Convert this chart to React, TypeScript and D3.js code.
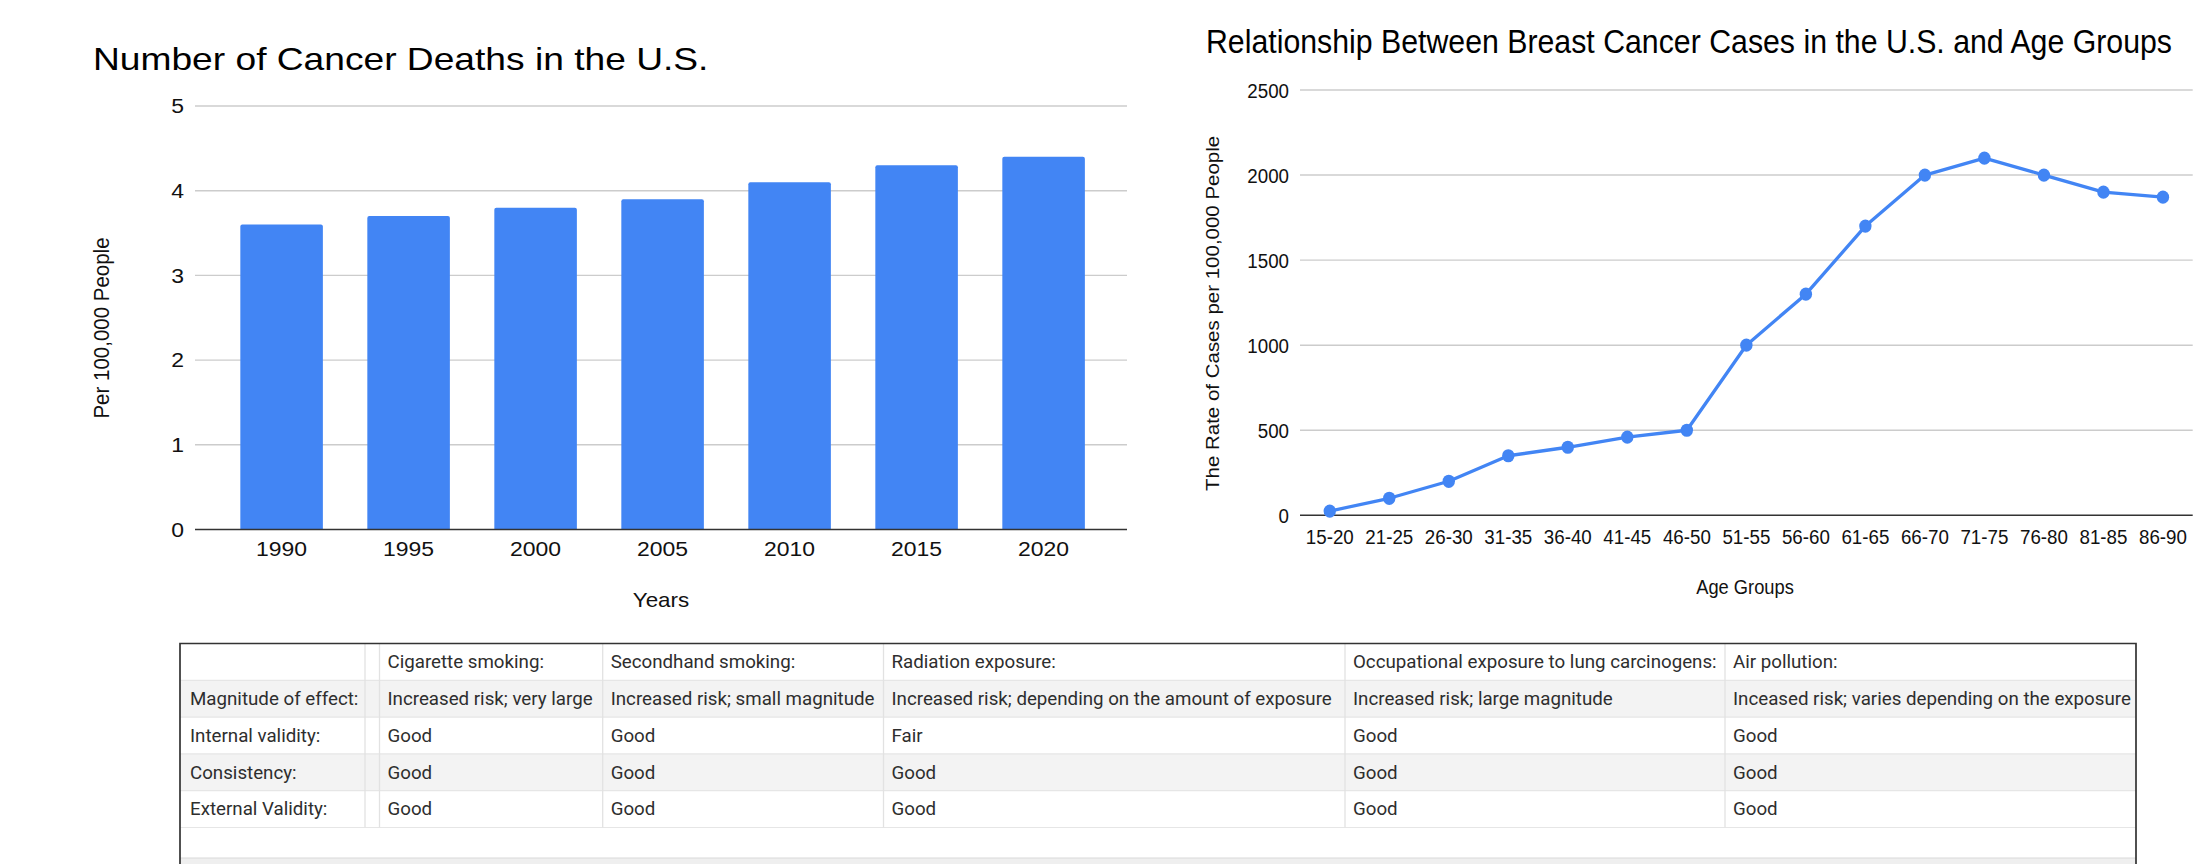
import React from 'react';
import * as d3 from 'd3';

// ---------- Data ----------
const years = ['1990', '1995', '2000', '2005', '2010', '2015', '2020'];
const deaths = [3.6, 3.7, 3.8, 3.9, 4.1, 4.3, 4.4];
const deathTicks = [0, 1, 2, 3, 4, 5];

const ageGroups = ['15-20', '21-25', '26-30', '31-35', '36-40', '41-45', '46-50', '51-55', '56-60', '61-65', '66-70', '71-75', '76-80', '81-85', '86-90'];
const breastRates = [25, 100, 200, 350, 400, 460, 500, 1000, 1300, 1700, 2000, 2100, 2000, 1900, 1870];
const rateTicks = [0, 500, 1000, 1500, 2000, 2500];

const tableHeader = ['', '', 'Cigarette smoking:', 'Secondhand smoking:', 'Radiation exposure:', 'Occupational exposure to lung carcinogens:', 'Air pollution:'];
const rowMagnitude = ['Magnitude of effect:', '', 'Increased risk; very large', 'Increased risk; small magnitude', 'Increased risk; depending on the amount of exposure', 'Increased risk; large magnitude', 'Inceased risk; varies depending on the exposure'];
const rowInternal = ['Internal validity:', '', 'Good', 'Good', 'Fair', 'Good', 'Good'];
const rowConsistency = ['Consistency:', '', 'Good', 'Good', 'Good', 'Good', 'Good'];
const rowExternal = ['External Validity:', '', 'Good', 'Good', 'Good', 'Good', 'Good'];
const tableRows = [tableHeader, rowMagnitude, rowInternal, rowConsistency, rowExternal];

const BLUE = '#4285F4';
const ARIAL = '"Liberation Sans", Arial, sans-serif';
const ROBOTO = 'Roboto, "Liberation Sans", sans-serif';

function SText(props: {
  x: number; y: number; sx?: number; rotate?: number; anchor?: string;
  size: number; family?: string; fill?: string; children: React.ReactNode;
}) {
  const { x, y, sx = 1, rotate = 0, anchor = 'start', size, family = ARIAL, fill = '#000', children } = props;
  const t = `translate(${x},${y}) scale(${sx},1)` + (rotate ? ` rotate(${rotate})` : '');
  return (
    <text transform={t} textAnchor={anchor as any} fontSize={size} fontFamily={family} fill={fill}>
      {children}
    </text>
  );
}

function BarChart() {
  const left = 195, right = 1127;
  const y = d3.scaleLinear().domain([0, 5]).range([529.5, 106]);
  const x = d3.scaleBand<string>().domain(years).range([218.1, 1107.1]).paddingInner(0.35).paddingOuter(0.175);
  const sx = 1.12;
  return (
    <g>
      <SText x={93} y={69.5} size={31.5} sx={1.18}>Number of Cancer Deaths in the U.S.</SText>
      {deathTicks.filter(t => t > 0).map(t => (
        <line key={t} x1={left} x2={right} y1={y(t)} y2={y(t)} stroke="#cccccc" strokeWidth={1.4} />
      ))}
      {deathTicks.map(t => (
        <SText key={'l' + t} x={184} y={y(t) + 7.3} size={20.5} sx={sx} anchor="end" fill="#111">{String(t)}</SText>
      ))}
      {years.map((yr, i) => {
        const x0 = x(yr)!;
        const w = x.bandwidth();
        const y0 = y(deaths[i]);
        const h = y(0) - y0;
        const r = 2;
        const d = `M${x0},${y0 + h} L${x0},${y0 + r} Q${x0},${y0} ${x0 + r},${y0} L${x0 + w - r},${y0} Q${x0 + w},${y0} ${x0 + w},${y0 + r} L${x0 + w},${y0 + h} Z`;
        return <path key={yr} d={d} fill={BLUE} />;
      })}
      <line x1={left} x2={right} y1={y(0)} y2={y(0)} stroke="#333" strokeWidth={1.6} />
      {years.map(yr => (
        <SText key={'x' + yr} x={x(yr)! + x.bandwidth() / 2} y={556} size={20.5} sx={sx} anchor="middle" fill="#111">{yr}</SText>
      ))}
      <SText x={661} y={607.3} size={20} sx={sx} anchor="middle" fill="#111">Years</SText>
      <SText x={109} y={328} size={20.5} sx={sx} rotate={-90} anchor="middle" fill="#111">Per 100,000 People</SText>
    </g>
  );
}

function LineChart() {
  const left = 1300, right = 2192.7;
  const y = d3.scaleLinear().domain([0, 2500]).range([515.3, 90]);
  const x = d3.scalePoint<string>().domain(ageGroups).range([left, right]).padding(0.5);
  const sx = 0.915;
  const line = d3.line<number>().x((_, i) => x(ageGroups[i])!).y(d => y(d));
  return (
    <g>
      <SText x={1206} y={52.7} size={33} sx={0.918}>Relationship Between Breast Cancer Cases in the U.S. and Age Groups</SText>
      {rateTicks.filter(t => t > 0).map(t => (
        <line key={t} x1={left} x2={right} y1={y(t)} y2={y(t)} stroke="#cccccc" strokeWidth={1.4} />
      ))}
      {rateTicks.map(t => (
        <SText key={'l' + t} x={1289} y={y(t) + 7.5} size={20.5} sx={sx} anchor="end" fill="#111">{String(t)}</SText>
      ))}
      <line x1={left} x2={right} y1={y(0)} y2={y(0)} stroke="#333" strokeWidth={1.6} />
      <path d={line(breastRates) || ''} fill="none" stroke={BLUE} strokeWidth={3.3} strokeLinejoin="round" />
      {breastRates.map((v, i) => (
        <ellipse key={i} cx={x(ageGroups[i])!} cy={y(v)} rx={6.2} ry={6.6} fill={BLUE} />
      ))}
      {ageGroups.map(g => (
        <SText key={'x' + g} x={x(g)!} y={544} size={20.5} sx={sx} anchor="middle" fill="#111">{g}</SText>
      ))}
      <SText x={1745} y={594.3} size={20} sx={sx} anchor="middle" fill="#111">Age Groups</SText>
      <SText x={1218.5} y={313.4} size={20.5} sx={sx} rotate={-90} anchor="middle" fill="#111">The Rate of Cases per 100,000 People</SText>
    </g>
  );
}

function Table() {
  const cols = [180, 365, 379.5, 602.7, 883.5, 1345, 1725, 2136];
  const top = 643.5;
  const rowH = 36.8;
  const bottomBand = 858;
  const rowBg = ['#ffffff', '#f3f3f3', '#ffffff', '#f3f3f3', '#ffffff'];
  const tableBottom = top + rowH * tableRows.length;
  return (
    <g>
      <defs>
        <clipPath id="tblclip">
          <rect x={cols[0]} y={top} width={cols[cols.length - 1] - cols[0]} height={864 - top} />
        </clipPath>
      </defs>
      <g clipPath="url(#tblclip)">
        <rect x={cols[0]} y={top} width={cols[cols.length - 1] - cols[0]} height={864 - top} fill="#fff" />
        {tableRows.map((row, r) => (
          <rect key={'bg' + r} x={cols[0]} y={top + r * rowH} width={cols[cols.length - 1] - cols[0]} height={rowH} fill={rowBg[r]} />
        ))}
        {tableRows.map((_, r) => (
          <line key={'hl' + r} x1={cols[0]} x2={cols[cols.length - 1]} y1={top + (r + 1) * rowH} y2={top + (r + 1) * rowH} stroke="#e6e6e6" strokeWidth={1.2} />
        ))}
        {cols.slice(1, -1).map((c, i) => (
          <line key={'vl' + i} x1={c} x2={c} y1={top} y2={tableBottom} stroke="#e2e2e2" strokeWidth={1.3} />
        ))}
        {tableRows.map((row, r) =>
          row.map((cell, c) => cell ? (
            <SText key={r + '-' + c} x={cols[c] + (c === 0 ? 10 : 8)} y={top + r * rowH + rowH / 2 + 6.3} size={17.5} sx={1.07} family={ROBOTO} fill="#2e2e2e">{cell}</SText>
          ) : null)
        )}
        <rect x={cols[0]} y={bottomBand} width={cols[cols.length - 1] - cols[0]} height={864 - bottomBand} fill="#efefef" />
        <line x1={cols[0]} x2={cols[cols.length - 1]} y1={bottomBand} y2={bottomBand} stroke="#dadada" strokeWidth={1.2} />
      </g>
      <path d={`M${cols[0]},864 L${cols[0]},${top} L${cols[cols.length - 1]},${top} L${cols[cols.length - 1]},864`} fill="none" stroke="#333" strokeWidth={1.7} />
    </g>
  );
}

export default function App() {
  return (
    <svg width={2204} height={864} viewBox="0 0 2204 864" style={{ position: 'absolute', left: 0, top: 0, background: '#fff' }}>
      <rect x={0} y={0} width={2204} height={864} fill="#fff" />
      <BarChart />
      <LineChart />
      <Table />
    </svg>
  );
}
